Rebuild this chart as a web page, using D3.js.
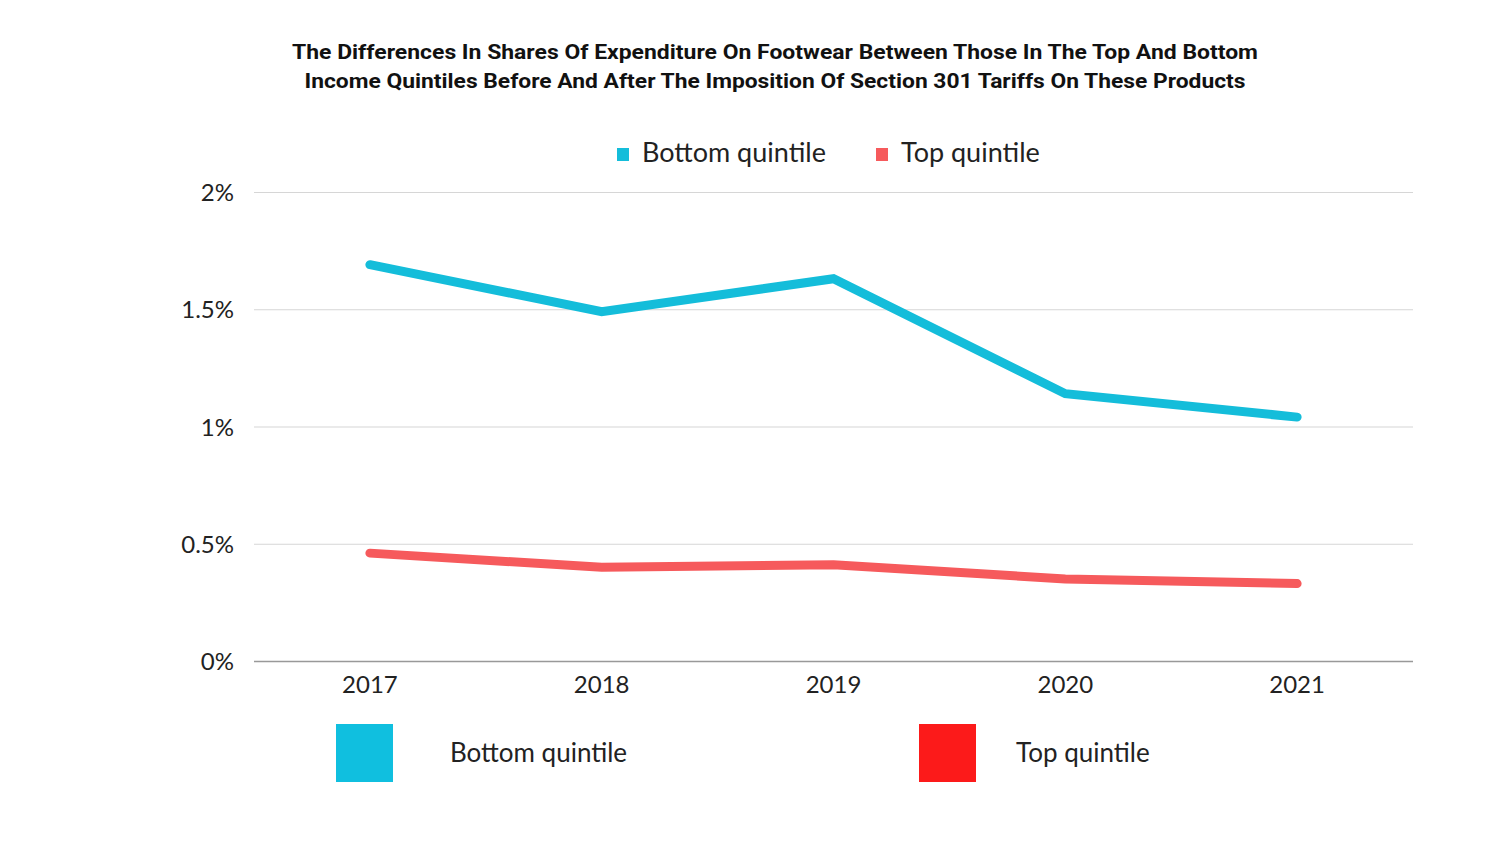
<!DOCTYPE html>
<html lang="en">
<head>
<meta charset="UTF-8">
<title>Footwear expenditure shares</title>
<script src="https://d3js.org/d3.v7.min.js"></script>
<style>
 body {margin: 0; padding: 0; background: #fff;}
 svg {display: block;}
 .title {font-family: "Roboto", "Open Sans", sans-serif; font-weight: bold; font-size: 21px; fill: #111; text-anchor: middle;}
 .tick text {font-family: "Lato", "Noto Sans", sans-serif; font-size: 24px; fill: #222;}
 .legend text {font-family: "Lato", "Noto Sans", sans-serif; fill: #222;}
</style>
</head>
<body>
<svg id="chart" width="1500" height="844"></svg>
<script>
const years = ['2017', '2018', '2019', '2020', '2021'];
const bottomQuintile = [1.69, 1.49, 1.63, 1.14, 1.04];
const topQuintile = [0.46, 0.40, 0.41, 0.35, 0.33];
const yTicks = [0, 0.5, 1, 1.5, 2];
const seriesNames = ['Bottom quintile', 'Top quintile'];
const lineColors = ['#14bdda', '#f65a5c'];
const swatchColors = ['#10bfdf', '#fc1a1a'];
const titleLines = [
  'The Differences In Shares Of Expenditure On Footwear Between Those In The Top And Bottom',
  'Income Quintiles Before And After The Imposition Of Section 301 Tariffs On These Products'
];
const titleWidths = [966, 941];

const svg = d3.select('#chart');
const margin = {left: 254, right: 87, top: 192, bottom: 183};
const W = 1500, H = 844;

const x = d3.scaleBand().domain(years).range([margin.left, W - margin.right]).padding(0);
const y = d3.scaleLinear().domain([0, 2]).range([H - margin.bottom, margin.top]);

// title, stretched to the width it has in the original
svg.selectAll('.title').data(titleLines).enter()
  .append('text').attr('class', 'title')
  .attr('x', 775).attr('y', (d, i) => 59 + i * 29)
  .attr('textLength', (d, i) => titleWidths[i])
  .attr('lengthAdjust', 'spacingAndGlyphs')
  .text(d => d);

// gridlines + y labels
const yAxis = svg.append('g')
  .attr('transform', `translate(${margin.left},0)`)
  .call(d3.axisLeft(y).tickValues(yTicks).tickFormat(d => d + '%')
    .tickSize(-(W - margin.left - margin.right)).tickPadding(20));
yAxis.select('.domain').remove();
yAxis.selectAll('.tick line').attr('stroke', d => d === 0 ? '#999' : '#d6d6d6').attr('stroke-width', d => d === 0 ? 1.5 : 1.2);
yAxis.selectAll('.tick text').attr('dy', '0.36em');

// x labels
const xAxis = svg.append('g')
  .attr('transform', `translate(0,${H - margin.bottom})`)
  .call(d3.axisBottom(x).tickSize(0).tickPadding(15));
xAxis.select('.domain').remove();

// lines
const line = d3.line().x((d, i) => x(years[i]) + x.bandwidth() / 2).y(d => y(d));
[bottomQuintile, topQuintile].forEach((s, k) => {
  svg.append('path').datum(s)
    .attr('d', line)
    .attr('fill', 'none')
    .attr('stroke', lineColors[k])
    .attr('stroke-width', 9)
    .attr('stroke-linecap', 'round')
    .attr('stroke-linejoin', 'miter');
});

// top legend
const topLeg = svg.append('g').attr('class', 'legend');
const topLegX = [617, 876];
seriesNames.forEach((n, i) => {
  topLeg.append('rect').attr('x', topLegX[i]).attr('y', 148).attr('width', 12).attr('height', 13).attr('fill', lineColors[i]);
  topLeg.append('text').attr('x', topLegX[i] + 25).attr('y', 162).attr('font-size', 27).text(n);
});

// bottom legend
const botLeg = svg.append('g').attr('class', 'legend');
const botLegX = [336, 919];
const botTextX = [450, 1016];
seriesNames.forEach((n, i) => {
  botLeg.append('rect').attr('x', botLegX[i]).attr('y', 724).attr('width', 57).attr('height', 58).attr('fill', swatchColors[i]);
  botLeg.append('text').attr('x', botTextX[i]).attr('y', 762).attr('font-size', 26).text(n);
});
</script>
</body>
</html>
